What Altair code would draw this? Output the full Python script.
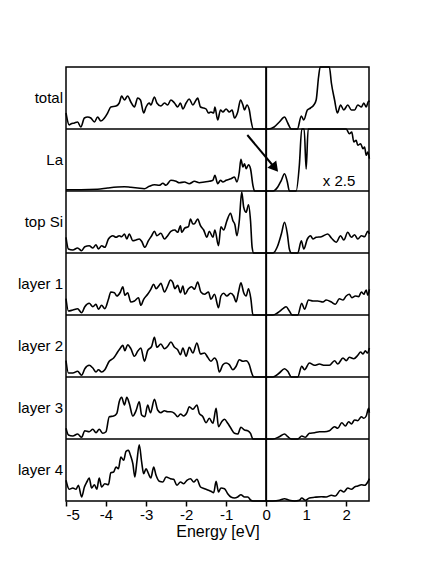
import altair as alt
import pandas as pd

panels = ["total", "La", "top Si", "layer 1", "layer 2", "layer 3", "layer 4"]

total = [(-5.00,16),(-4.92,4),(-4.88,5),(-4.79,6),(-4.71,7),(-4.63,2),(-4.54,11),(-4.46,12),(-4.38,11),(-4.29,7),(-4.21,12),(-4.13,8),(-4.04,11),(-3.96,16),(-3.88,22),(-3.75,23),(-3.67,26),(-3.61,33),(-3.54,29),(-3.46,33),(-3.38,27),(-3.29,22),(-3.21,31),(-3.14,29),(-3.06,16),(-3.00,22),(-2.92,26),(-2.88,24),(-2.79,32),(-2.73,26),(-2.63,23),(-2.54,26),(-2.46,24),(-2.38,29),(-2.29,26),(-2.21,22),(-2.14,26),(-2.08,20),(-2.00,26),(-1.92,30),(-1.83,24),(-1.75,29),(-1.71,31),(-1.64,22),(-1.56,21),(-1.50,20),(-1.44,16),(-1.38,17),(-1.31,16),(-1.28,22),(-1.21,9),(-1.14,19),(-1.08,17),(-1.00,20),(-0.92,17),(-0.85,19),(-0.79,11),(-0.71,17),(-0.64,29),(-0.58,24),(-0.54,19),(-0.48,24),(-0.42,19),(-0.38,9),(-0.32,0),(0.0,0),(0.05,0),(0.20,2),(0.33,7),(0.46,12),(0.54,6),(0.63,0),(0.78,0),(0.88,13),(0.94,9),(1.03,19),(1.11,21),(1.19,24),(1.25,29),(1.31,52),(1.35,65),(1.45,130),(1.58,65),(1.63,46),(1.71,29),(1.78,16),(1.86,24),(1.94,19),(2.04,24),(2.13,19),(2.21,19),(2.29,24),(2.38,22),(2.44,26),(2.50,22),(2.56,28),(2.58,27)]

la = [(-5.00,1.3),(-4.63,1.3),(-4.21,1.7),(-3.96,3),(-3.71,4),(-3.54,4.3),(-3.38,3.7),(-3.21,3),(-3.04,2.3),(-2.92,4.7),(-2.79,6.3),(-2.67,5.7),(-2.58,7.7),(-2.50,5.7),(-2.38,10.7),(-2.25,9.7),(-2.17,8.3),(-2.04,9),(-1.92,7.3),(-1.79,9.7),(-1.67,8.3),(-1.54,9),(-1.42,9.7),(-1.33,10.7),(-1.28,15.7),(-1.21,7.3),(-1.14,10.7),(-1.08,9),(-1.00,10.7),(-0.88,12.3),(-0.79,14),(-0.73,9),(-0.67,19),(-0.63,31.7),(-0.58,24),(-0.54,27.3),(-0.50,22.3),(-0.44,26.3),(-0.39,22.3),(-0.33,5.7),(-0.29,0),(0.0,0),(0.17,0),(0.29,4),(0.38,10.7),(0.46,17.3),(0.53,9),(0.58,0),(0.75,0),(0.83,25.7),(0.89,80),(0.95,70),(1.0,22),(1.05,70),(1.11,90),(1.2,100),(1.5,110),(1.8,90),(1.95,70),(2.00,62),(2.08,57.3),(2.14,59),(2.19,49),(2.25,50.7),(2.29,45.7),(2.36,47.3),(2.42,42.3),(2.46,44),(2.50,35.7),(2.54,39),(2.58,32.3)]

top_si = [(-5.00,15.7),(-4.94,4),(-4.83,3),(-4.71,5),(-4.61,2.3),(-4.53,6.3),(-4.42,7.3),(-4.33,5),(-4.25,8.3),(-4.19,4),(-4.11,7.3),(-4.03,5.7),(-3.94,14),(-3.83,17.3),(-3.75,15.7),(-3.67,17.3),(-3.61,16.3),(-3.54,19),(-3.48,14),(-3.42,19),(-3.33,12.3),(-3.25,13),(-3.17,14),(-3.11,11.7),(-3.03,5.7),(-2.94,12.3),(-2.86,17.3),(-2.79,21.7),(-2.73,17.3),(-2.63,19.7),(-2.54,14),(-2.46,17.3),(-2.38,21.7),(-2.28,23),(-2.21,20.7),(-2.14,27.3),(-2.11,20.7),(-2.03,25),(-1.94,26.3),(-1.89,34),(-1.83,29),(-1.78,29.7),(-1.71,34),(-1.64,27.3),(-1.56,23),(-1.48,15.7),(-1.42,21.7),(-1.33,15.7),(-1.28,23),(-1.19,7.3),(-1.13,26.3),(-1.06,23),(-0.98,32.3),(-0.89,39.7),(-0.83,32.3),(-0.78,28.3),(-0.73,17.3),(-0.67,32.3),(-0.61,61),(-0.56,45.7),(-0.50,40.7),(-0.44,48.3),(-0.39,32.3),(-0.35,5.7),(-0.31,0),(0.0,0),(0.17,0),(0.29,7.3),(0.38,19),(0.46,30.7),(0.53,19),(0.58,4),(0.63,0),(0.79,0),(0.88,12.3),(0.94,4),(1.03,14),(1.11,17.3),(1.17,14),(1.25,15.7),(1.38,16.3),(1.54,19),(1.63,15),(1.75,10.7),(1.86,17.3),(1.94,13),(2.04,20.7),(2.13,15.7),(2.21,18.3),(2.29,14),(2.38,17.3),(2.46,16.3),(2.54,21.7),(2.58,19)]

layer1 = [(-5.00,16.3),(-4.94,4),(-4.83,5),(-4.71,6.3),(-4.61,2.3),(-4.53,8.3),(-4.42,11.7),(-4.33,8.3),(-4.25,10.7),(-4.19,5.7),(-4.11,9.7),(-4.03,6.3),(-3.94,15.7),(-3.88,23),(-3.79,22.3),(-3.73,19),(-3.64,23),(-3.58,28.3),(-3.53,19.7),(-3.46,22.3),(-3.38,13),(-3.29,14),(-3.19,17.3),(-3.13,9.7),(-3.06,15.7),(-2.96,20.7),(-2.88,25.7),(-2.81,30.7),(-2.75,26.3),(-2.67,29.7),(-2.63,31.7),(-2.54,23),(-2.46,29),(-2.39,35),(-2.33,32.3),(-2.28,26.3),(-2.21,29.7),(-2.14,22.3),(-2.08,29),(-2.03,20.7),(-1.94,26.3),(-1.86,28.3),(-1.79,25.7),(-1.71,33),(-1.63,23),(-1.54,20.7),(-1.44,23),(-1.38,15.7),(-1.29,20.7),(-1.19,7.3),(-1.13,19),(-1.06,21.7),(-0.98,19),(-0.89,21.7),(-0.81,19),(-0.75,13),(-0.69,23),(-0.63,32.3),(-0.56,22.3),(-0.50,19),(-0.44,26.3),(-0.38,15.7),(-0.33,0),(0.0,0),(0.17,0),(0.29,2.3),(0.42,6.3),(0.50,8.3),(0.58,4),(0.65,0),(0.79,0),(0.89,11.7),(0.96,5.7),(1.06,15),(1.17,14),(1.29,14),(1.42,13),(1.50,15),(1.63,13),(1.73,10.7),(1.83,16.3),(1.92,15),(2.00,19),(2.08,20.7),(2.14,17.3),(2.23,19),(2.31,18.3),(2.38,23),(2.44,20.7),(2.50,25),(2.54,19.7),(2.58,25.7)]

layer2 = [(-5.00,16.3),(-4.94,4),(-4.83,4),(-4.71,5.7),(-4.61,1.7),(-4.53,8.3),(-4.42,11.7),(-4.33,9),(-4.25,5),(-4.19,7.3),(-4.11,5),(-4.03,7.3),(-3.92,15.7),(-3.81,19),(-3.71,25),(-3.64,29),(-3.58,31.7),(-3.53,26.3),(-3.46,32.3),(-3.38,28.3),(-3.29,20.7),(-3.21,25.7),(-3.13,29),(-3.04,15.7),(-2.96,26.3),(-2.86,30.7),(-2.79,39.7),(-2.73,29.7),(-2.63,33),(-2.54,28.3),(-2.46,30.7),(-2.38,35),(-2.29,29.7),(-2.21,27.3),(-2.14,22.3),(-2.08,29),(-2.00,20.7),(-1.92,29.7),(-1.83,24),(-1.73,34),(-1.64,23),(-1.54,24),(-1.46,19.7),(-1.38,15.7),(-1.29,19),(-1.23,15.7),(-1.17,5),(-1.08,12.3),(-1.00,14),(-0.92,12.3),(-0.83,7.3),(-0.75,10.7),(-0.67,17.3),(-0.58,15.7),(-0.50,16.3),(-0.42,12.3),(-0.36,4),(-0.31,0),(0.0,0),(0.17,0),(0.33,4),(0.46,8.3),(0.54,5.7),(0.63,0),(0.79,0),(0.89,10.7),(0.96,7.3),(1.08,14),(1.21,11.7),(1.33,13),(1.46,11.7),(1.58,11.7),(1.71,16.3),(1.79,13),(1.92,19),(2.00,16.3),(2.08,19.7),(2.19,18.3),(2.29,21.7),(2.36,25),(2.42,23),(2.48,26.3),(2.53,24),(2.58,29)]

layer3 = [(-5.00,10.7),(-4.94,4),(-4.83,3),(-4.71,5),(-4.61,1.7),(-4.53,8.3),(-4.42,7.3),(-4.33,9.7),(-4.25,6.3),(-4.17,9.7),(-4.08,5.7),(-4.00,7.3),(-3.92,22.3),(-3.81,23),(-3.73,25.7),(-3.67,37.3),(-3.61,41.7),(-3.54,34),(-3.48,41.7),(-3.42,35.7),(-3.33,23),(-3.25,28.3),(-3.17,37.3),(-3.11,24),(-3.03,22.3),(-2.96,34),(-2.89,26.3),(-2.79,39.7),(-2.71,29),(-2.63,26.3),(-2.54,28.3),(-2.46,27.3),(-2.38,27.3),(-2.29,25.7),(-2.21,22.3),(-2.14,25),(-2.06,23),(-1.98,26.3),(-1.92,32.3),(-1.83,29.7),(-1.73,34),(-1.67,25.7),(-1.58,22.3),(-1.50,16.3),(-1.42,20.7),(-1.33,15.7),(-1.25,30.7),(-1.19,12.3),(-1.11,17.3),(-1.04,19.7),(-0.96,15.7),(-0.88,10.7),(-0.79,5.7),(-0.71,5),(-0.63,11.7),(-0.54,9),(-0.46,8.3),(-0.39,5.7),(-0.33,0),(0.0,0),(0.17,0),(0.33,2.3),(0.46,5),(0.54,2.3),(0.63,0),(0.79,0),(0.89,3),(0.98,1.7),(1.08,5.7),(1.21,6.3),(1.33,7.3),(1.46,7.3),(1.58,8.3),(1.71,12.3),(1.79,10.7),(1.89,16.3),(1.98,13),(2.06,17.3),(2.13,15),(2.21,19),(2.29,18.3),(2.38,22.3),(2.44,20.7),(2.50,23),(2.56,30.7),(2.58,26.3)]

layer4 = [(-5.00,20.7),(-4.92,11.7),(-4.83,13),(-4.75,11.7),(-4.69,15.7),(-4.61,4),(-4.54,14),(-4.48,19),(-4.42,23),(-4.36,13),(-4.29,16.3),(-4.23,11.7),(-4.17,23),(-4.11,14),(-4.03,17.3),(-3.94,16.3),(-3.88,28.3),(-3.81,29),(-3.75,34),(-3.69,32.3),(-3.63,44),(-3.56,40.7),(-3.50,49.7),(-3.44,50.7),(-3.39,45.7),(-3.33,37.3),(-3.28,24),(-3.23,39),(-3.17,56.3),(-3.11,39),(-3.06,27.3),(-3.00,32.3),(-2.94,27.3),(-2.88,23),(-2.81,34),(-2.75,25.7),(-2.67,19.7),(-2.58,19),(-2.50,24),(-2.39,22.3),(-2.31,21.7),(-2.23,15.7),(-2.14,19),(-2.06,17.3),(-1.98,20.7),(-1.89,22.3),(-1.81,19),(-1.73,21.7),(-1.64,14),(-1.54,12.3),(-1.44,10.7),(-1.38,9.7),(-1.31,8.3),(-1.25,19.7),(-1.19,9),(-1.13,13),(-1.04,12.3),(-0.96,7.3),(-0.88,4),(-0.79,3),(-0.71,4),(-0.63,6.3),(-0.54,4),(-0.46,4),(-0.38,0.7),(-0.33,0),(0.0,0),(0.17,0),(0.33,0.7),(0.46,2.3),(0.58,0.7),(0.71,0),(0.83,0.7),(0.89,3),(0.98,0.7),(1.08,3),(1.21,3.7),(1.38,4.3),(1.50,4),(1.63,5.7),(1.73,5),(1.86,10.7),(1.94,9),(2.04,13),(2.13,11.7),(2.21,14),(2.29,15),(2.38,16.3),(2.46,15.7),(2.54,19),(2.58,22.3)]

series_list = [total, la, top_si, layer1, layer2, layer3, layer4]
tick_values = [-5, -4, -3, -2, -1, 0, 1, 2]
x_domain = [-5, 2.57]
panel_range = 62  # DOS range shown in each panel (arb. units)
n = len(panels)

# arrow and scale annotation in the La panel (energy, DOS)
arrow_start = (-0.47, 56)
arrow_end = (0.22, 23)
note_pos = (1.82, 10)
note_text = "x 2.5"

rows = []
for i, (name, series) in enumerate(zip(panels, series_list)):
    off = (n - 1 - i) * panel_range
    for e, v in series:
        rows.append({"panel": name, "E": e, "y": min(v, panel_range) + off})
df = pd.DataFrame(rows)

lab_df = pd.DataFrame({
    "panel": panels,
    "ymid": [(n - 1 - i) * panel_range + panel_range / 2 for i in range(n)],
})
bnd_df = pd.DataFrame({"yb": [k * panel_range for k in range(1, n)]})
la_off = (n - 2) * panel_range
arrow_df = pd.DataFrame({
    "E": [arrow_start[0], arrow_end[0]],
    "y": [arrow_start[1] + la_off, arrow_end[1] + la_off],
    "part": ["start", "end"],
})
note_df = pd.DataFrame({"E": [note_pos[0]], "y": [note_pos[1] + la_off], "t": [note_text]})

FONT = "Liberation Sans"
xscale = alt.Scale(domain=x_domain, nice=False, zero=False)
yscale = alt.Scale(domain=[0, n * panel_range], nice=False, zero=False)

lines = alt.Chart(df).mark_line(color="black", strokeWidth=1.6, interpolate="monotone").encode(
    x=alt.X("E:Q", scale=xscale,
            axis=alt.Axis(values=tick_values, title="Energy [eV]",
                          labelExpr="'' + datum.value", grid=False, domain=False,
                          tickSize=5, tickWidth=1.5, tickColor="black",
                          labelFont=FONT, labelFontSize=15, labelColor="black",
                          labelPadding=1, titleFont=FONT, titleFontSize=16,
                          titleFontWeight="normal", titleColor="black", titlePadding=1)),
    y=alt.Y("y:Q", scale=yscale, axis=None),
    detail="panel:N",
)

borders = alt.Chart(bnd_df).mark_rule(color="black", strokeWidth=1.5).encode(
    y=alt.Y("yb:Q", scale=yscale, axis=None)
)

zero = alt.Chart(pd.DataFrame({"E": [0]})).mark_rule(color="black", strokeWidth=2).encode(
    x=alt.X("E:Q", scale=xscale)
)

labels = alt.Chart(lab_df).mark_text(
    align="right", baseline="middle", font=FONT, fontSize=15, color="black"
).encode(x=alt.value(-3), y=alt.Y("ymid:Q", scale=yscale, axis=None), text="panel:N")

arrow_line = alt.Chart(arrow_df).mark_line(color="black", strokeWidth=2).encode(
    x=alt.X("E:Q", scale=xscale), y=alt.Y("y:Q", scale=yscale, axis=None)
)
arrow_head = alt.Chart(arrow_df).transform_filter(
    alt.datum.part == "end"
).mark_point(
    shape="triangle-up", filled=True, size=130, angle=141, color="black", opacity=1
).encode(x=alt.X("E:Q", scale=xscale), y=alt.Y("y:Q", scale=yscale, axis=None))

note = alt.Chart(note_df).mark_text(
    font=FONT, fontSize=15, color="black", align="center", baseline="middle"
).encode(x=alt.X("E:Q", scale=xscale), y=alt.Y("y:Q", scale=yscale, axis=None), text="t:N")

chart = alt.layer(borders, zero, lines, labels, arrow_line, arrow_head, note).properties(
    width=303, height=n * panel_range,
    padding={"left": 9, "top": 55, "right": 10, "bottom": 10},
).configure_view(stroke="black", strokeWidth=1.5)

chart.save("out.html", embed_options={"renderer": "svg", "actions": False})
